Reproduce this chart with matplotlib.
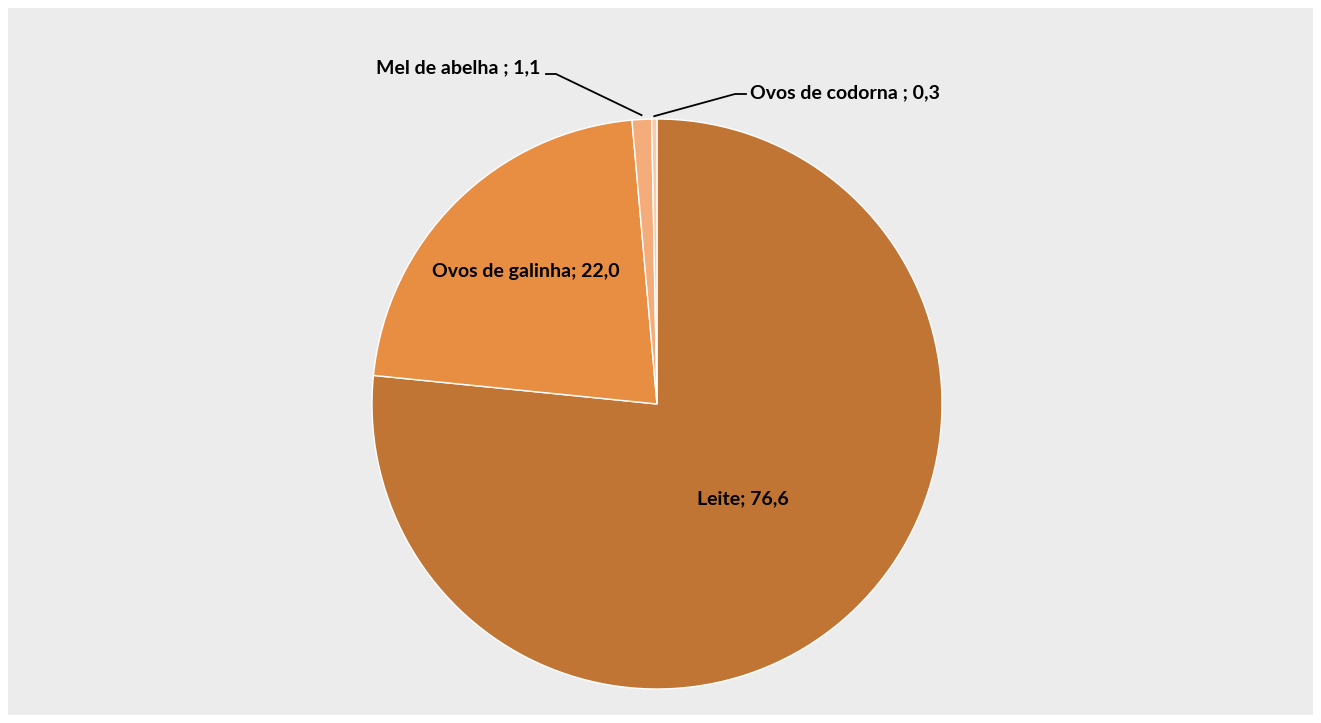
import numpy as np
import matplotlib
matplotlib.use("Agg")
import matplotlib.pyplot as plt
import matplotlib.patches as patches

# data
categories = ["Leite", "Ovos de galinha", "Mel de abelha ", "Ovos de codorna "]
values = [76.6, 22.0, 1.1, 0.3]
colors = ["#C07535", "#E88E43", "#F4AC7A", "#F8CBAA"]

W_PX, H_PX = 1321, 723
fig = plt.figure(figsize=(W_PX / 100, H_PX / 100), dpi=100, facecolor="white")

# grey panel with white margin
fig.patches.append(patches.Rectangle((8 / W_PX, 8 / H_PX), (1313 - 8) / W_PX, (715 - 8) / H_PX,
                                     transform=fig.transFigure, facecolor="#EBECEB",
                                     edgecolor="none", zorder=-10))

ax = fig.add_axes([0, 0, 1, 1])
ax.set_zorder(1)
ax.patch.set_visible(False)

wedges, _ = ax.pie(values, colors=colors, startangle=90, counterclock=False,
                   wedgeprops=dict(edgecolor="white", linewidth=1.0))

# pixel layout -> data units (radius 1 = 285 px)
R = 285.0
cx, cy = 657.0, 404.0
ax.set_xlim(-cx / R, (W_PX - cx) / R)
ax.set_ylim(-(H_PX - cy) / R, cy / R)
ax.set_aspect("auto")
ax.axis("off")

font = dict(family=["Lato", "DejaVu Sans"], fontweight="bold", fontsize=14, color="black")

def mid_angle(w):
    return np.deg2rad((w.theta1 + w.theta2) / 2)

# labels inside the two big slices
for w, name, v, r in zip(wedges[:2], categories[:2], values[:2], [0.45, 0.655]):
    a = mid_angle(w)
    ax.text(r * np.cos(a), r * np.sin(a), f"{name}; {v:.1f}".replace(".", ","),
            ha="center", va="center", **font)

# small slices with leader lines
px = 1.0 / R
# Mel de abelha
a = mid_angle(wedges[2])
p0 = (1.015 * np.cos(a), 1.015 * np.sin(a))
elbow = (-(657 - 556) * px, (404 - 74) * px)
end = (-(657 - 546) * px, (404 - 74) * px)
ax.plot([p0[0], elbow[0], end[0]], [p0[1], elbow[1], end[1]], color="black", lw=1.3)
ax.text(end[0] - 6 * px, (404 - 68) * px, f"{categories[2]}; {values[2]:.1f}".replace(".", ","),
        ha="right", va="center", **font)

# Ovos de codorna
a = mid_angle(wedges[3])
p0 = (1.01 * np.cos(a), 1.01 * np.sin(a))
elbow = ((735 - 657) * px, (404 - 94) * px)
end = ((746 - 657) * px, (404 - 94) * px)
ax.plot([p0[0], elbow[0], end[0]], [p0[1], elbow[1], end[1]], color="black", lw=1.3)
ax.text(end[0] + 4 * px, (404 - 93) * px, f"{categories[3]}; {values[3]:.1f}".replace(".", ","),
        ha="left", va="center", **font)

fig.savefig("out.png", dpi=100, facecolor="white")
